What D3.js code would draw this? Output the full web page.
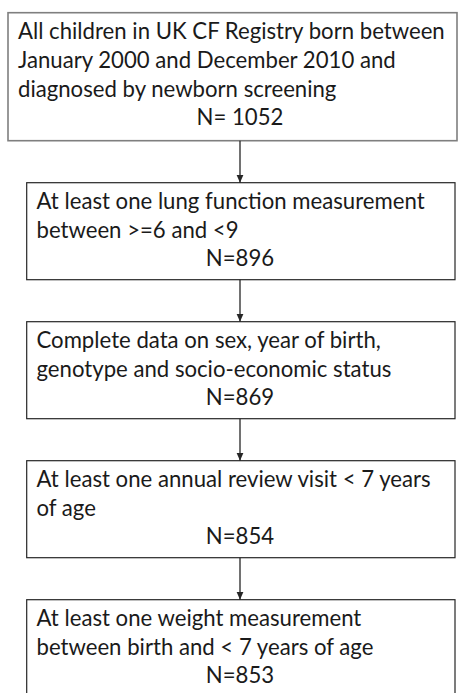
<!DOCTYPE html>
<html>
<head>
<meta charset="utf-8">
<script src="https://cdn.jsdelivr.net/npm/d3@7"></script>
<style>
body{margin:0;background:#fff;}
</style>
</head>
<body>
<script>
var width = 458;
var height = 693;

// text of each step in the flow
var stepLines = [
	["All children in UK CF Registry born between", "January 2000 and December 2010 and", "diagnosed by newborn screening"],
	["At least one lung function measurement", "between >=6 and <9"],
	["Complete data on sex, year of birth,", "genotype and socio-economic status"],
	["At least one annual review visit < 7 years", "of age"],
	["At least one weight measurement", "between birth and < 7 years of age"]
];
var counts = [1052, 896, 869, 854, 853];

var lineStep = 29;
var gap = 42;
var arrowX = 240;

var svg = d3.select("body")
.append("svg")
.attr("width", width)
.attr("height", height);

svg.append("defs").append("marker")
.attr("id", "head")
.attr("viewBox", "0 0 8 8")
.attr("refX", 8)
.attr("refY", 4)
.attr("markerWidth", 8)
.attr("markerHeight", 8)
.attr("markerUnits", "userSpaceOnUse")
.attr("orient", "auto")
.append("path")
.attr("d", "M0,0.5L8,4L0,7.5Z")
.attr("fill", "#262626");

// lay the boxes out from their number of lines
var boxes = [];
var boxTop = 12.7;
stepLines.forEach(function(lines, i){
	var n = lines.length + 1;
	var h = 31 * n + 4;
	boxes.push({lines: lines, n: counts[i], y0: boxTop, h: h, first: i == 0});
	boxTop += h + gap;
});

var lineY = d3.scaleLinear().domain([0, 1]).range([26, 26 + lineStep]);

var g = svg.selectAll(".step")
.data(boxes)
.enter()
.append("g")
.attr("class", "step")
.attr("transform", function(d){ return "translate(0," + d.y0 + ")"; });

g.append("rect")
.attr("x", function(d){ return d.first ? 8 : 26.7; })
.attr("y", 0)
.attr("width", function(d){ return d.first ? 449 : 428.3; })
.attr("height", function(d){ return d.h; })
.attr("fill", "#fff")
.attr("stroke", function(d){ return d.first ? "#7f7f7f" : "#262626"; })
.attr("stroke-width", function(d){ return d.first ? 1.6 : 1.2; });

g.selectAll(".line")
.data(function(d){ return d.lines.map(function(t){ return {t: t, first: d.first}; }); })
.enter()
.append("text")
.attr("class", "line lbl")
.attr("x", function(d){ return d.first ? 18 : 36.5; })
.attr("y", function(d, i){ return lineY(i); })
.attr("fill", "#1a1a1a")
.text(function(d){ return d.t; });

g.append("text")
.attr("class", "lbl")
.attr("x", arrowX)
.attr("y", function(d){ return lineY(d.lines.length) - 0.5; })
.attr("text-anchor", "middle")
.attr("fill", "#1a1a1a")
.text(function(d, i){ return "N=" + (i == 0 ? " " : "") + d.n; });

// size the font so the first line fills as much as in the original
var labels = svg.selectAll(".lbl")
.attr("font-family", "Lato, 'Open Sans', sans-serif")
.attr("font-size", "20px");
var w = svg.select(".line").node().getComputedTextLength();
labels.attr("font-size", (20 * 427 / w) + "px");

svg.selectAll(".arrow")
.data(boxes.slice(1))
.enter()
.append("line")
.attr("class", "arrow")
.attr("x1", arrowX)
.attr("x2", arrowX)
.attr("y1", function(d, i){ return boxes[i].y0 + boxes[i].h; })
.attr("y2", function(d){ return d.y0; })
.attr("stroke", "#262626")
.attr("stroke-width", 1.3)
.attr("marker-end", "url(#head)");
</script>
</body>
</html>
